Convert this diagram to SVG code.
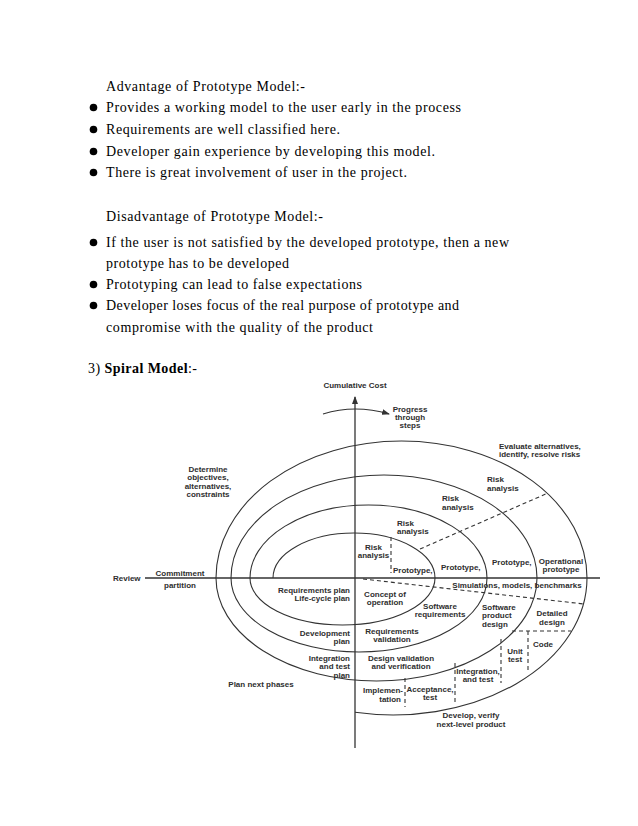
<svg xmlns="http://www.w3.org/2000/svg" width="638" height="826" viewBox="0 0 638 826">
<defs>
<style>
.body{font-family:"Liberation Serif","Times New Roman",serif;font-size:14px;fill:#000}
.lb{font-family:"Liberation Sans",Arial,sans-serif;font-size:8px;font-weight:bold;fill:#2e2e2e}
.m{text-anchor:middle}
.e{text-anchor:end}
.ln{fill:none;stroke:#333;stroke-width:1.1}
.ax{fill:none;stroke:#333;stroke-width:1.3}
.dash{fill:none;stroke:#333;stroke-width:1.1;stroke-dasharray:4 3}
</style>
<marker id="ah" viewBox="0 0 8 6" refX="7" refY="3" markerWidth="8" markerHeight="6" markerUnits="userSpaceOnUse" orient="auto">
<path d="M0,0 L8,3 L0,6 z" fill="#333"/>
</marker>
</defs>
<rect width="638" height="826" fill="#fff"/>

<g id="text-body">
<text class="body" x="106" y="91" textLength="199" lengthAdjust="spacing">Advantage  of Prototype Model:-</text>
<g id="bullets" fill="#000">
<circle cx="93.5" cy="107.5" r="3.8"/>
<circle cx="93.5" cy="129.5" r="3.8"/>
<circle cx="93.5" cy="151.5" r="3.8"/>
<circle cx="93.5" cy="172.5" r="3.8"/>
<circle cx="93.5" cy="242.5" r="3.8"/>
<circle cx="93.5" cy="284.5" r="3.8"/>
<circle cx="93.5" cy="305.5" r="3.8"/>
</g>
<text class="body" x="106" y="112" textLength="355" lengthAdjust="spacing">Provides a working model to the user early in the process</text>
<text class="body" x="106" y="134" textLength="234" lengthAdjust="spacing">Requirements  are well classified here.</text>
<text class="body" x="106" y="156" textLength="329" lengthAdjust="spacing">Developer gain experience by developing this model.</text>
<text class="body" x="106" y="177" textLength="301" lengthAdjust="spacing">There is great involvement of user in the project.</text>
<text class="body" x="106" y="221" textLength="217" lengthAdjust="spacing">Disadvantage  of Prototype Model:-</text>
<text class="body" x="106" y="247" textLength="403" lengthAdjust="spacing">If the user is not satisfied by the developed prototype, then a new</text>
<text class="body" x="106" y="268" textLength="183" lengthAdjust="spacing">prototype has to be developed</text>
<text class="body" x="106" y="289" textLength="256" lengthAdjust="spacing">Prototyping can lead to false expectations</text>
<text class="body" x="106" y="310" textLength="353" lengthAdjust="spacing">Developer loses focus of the real purpose of prototype and</text>
<text class="body" x="106" y="332" textLength="267" lengthAdjust="spacing">compromise with the quality of the product</text>
<text class="body" x="88" y="373" textLength="109" lengthAdjust="spacing">3) <tspan font-weight="bold">Spiral Model</tspan>:-</text>
</g>

<g id="connectors">
<line class="ax" x1="145" y1="578" x2="600" y2="578"/>
<line class="ax" x1="355" y1="748" x2="355" y2="397" marker-end="url(#ah)"/>
<path class="ln" d="M323,414 Q355,404 389,414" marker-end="url(#ah)"/>
<path id="spiral" class="ln" d="M273,578 A81,45 0 0 1 435,578 A92.5,47 0 0 1 250,578 A118.5,73 0 0 1 487,578 A128,74 0 0 1 231,578 A153,103 0 0 1 537,578 A160.5,103 0 0 1 216,578 A185.5,137 0 0 1 587,578 A194,137 0 0 1 355,712.3"/>
<line class="dash" x1="420" y1="549" x2="548" y2="493"/>
<line class="dash" x1="363" y1="579" x2="584" y2="604"/>
<line class="dash" x1="391" y1="537" x2="391" y2="573"/>
<line class="dash" x1="512" y1="631" x2="571" y2="631"/>
<line class="dash" x1="501" y1="639" x2="501" y2="683"/>
<line class="dash" x1="528" y1="631" x2="528" y2="672"/>
<line class="dash" x1="455" y1="663" x2="455" y2="703"/>
<line class="dash" x1="405" y1="678" x2="405" y2="707"/>
</g>

<g id="labels">
<text class="lb m" x="355" y="388">Cumulative Cost</text>
<g id="progress"><text class="lb m" x="410" y="412">Progress</text><text class="lb m" x="410" y="420">through</text><text class="lb m" x="410" y="428">steps</text></g>
<g id="evaluate"><text class="lb" x="499" y="449">Evaluate alternatives,</text><text class="lb" x="499" y="457">identify, resolve risks</text></g>
<g id="determine"><text class="lb m" x="208" y="472">Determine</text><text class="lb m" x="208" y="480">objectives,</text><text class="lb m" x="208" y="489">alternatives,</text><text class="lb m" x="208" y="497">constraints</text></g>
<g id="risk4"><text class="lb" x="487" y="482">Risk</text><text class="lb" x="487" y="491">analysis</text></g>
<g id="risk3"><text class="lb" x="442" y="501">Risk</text><text class="lb" x="442" y="510">analysis</text></g>
<g id="risk2"><text class="lb" x="397" y="526">Risk</text><text class="lb" x="397" y="534">analysis</text></g>
<g id="risk1"><text class="lb m" x="373.5" y="550">Risk</text><text class="lb m" x="373.5" y="558">analysis</text></g>
<text class="lb" x="393" y="573">Prototype,</text>
<text class="lb" x="441" y="570">Prototype,</text>
<text class="lb" x="492" y="565">Prototype,</text>
<g id="operational"><text class="lb m" x="561" y="564">Operational</text><text class="lb m" x="561" y="572">prototype</text></g>
<text class="lb" x="113" y="581">Review</text>
<g id="commitment"><text class="lb m" x="180" y="576">Commitment</text><text class="lb m" x="180" y="588">partition</text></g>
<g id="reqplan"><text class="lb e" x="350" y="593">Requirements plan</text><text class="lb e" x="350" y="601">Life-cycle plan</text></g>
<g id="devplan"><text class="lb e" x="350" y="636">Development</text><text class="lb e" x="350" y="644">plan</text></g>
<g id="intplan"><text class="lb e" x="350" y="661">Integration</text><text class="lb e" x="350" y="669">and test</text><text class="lb e" x="350" y="678">plan</text></g>
<text class="lb m" x="261" y="687">Plan next phases</text>
<g id="concept"><text class="lb m" x="385" y="597">Concept of</text><text class="lb m" x="385" y="605">operation</text></g>
<g id="reqval"><text class="lb m" x="392" y="634">Requirements</text><text class="lb m" x="392" y="642">validation</text></g>
<g id="desval"><text class="lb m" x="401" y="661">Design validation</text><text class="lb m" x="401" y="669">and verification</text></g>
<g id="impl"><text class="lb e" x="403" y="693">Implemen-</text><text class="lb e" x="401" y="702">tation</text></g>
<g id="accept"><text class="lb m" x="430" y="692">Acceptance,</text><text class="lb m" x="430" y="700">test</text></g>
<g id="inttest"><text class="lb m" x="478" y="674">Integration,</text><text class="lb m" x="478" y="682">and test</text></g>
<g id="unit"><text class="lb m" x="515" y="654">Unit</text><text class="lb m" x="515" y="662">test</text></g>
<text class="lb" x="533" y="647">Code</text>
<g id="swreq"><text class="lb m" x="440" y="609">Software</text><text class="lb m" x="440" y="617">requirements</text></g>
<g id="swprod"><text class="lb" x="482" y="610">Software</text><text class="lb" x="482" y="618">product</text><text class="lb" x="482" y="627">design</text></g>
<g id="detailed"><text class="lb m" x="552" y="616">Detailed</text><text class="lb m" x="552" y="625">design</text></g>
<text class="lb m" x="517" y="588">Simulations, models, benchmarks</text>
<g id="develop"><text class="lb m" x="471" y="718">Develop, verify</text><text class="lb m" x="471" y="727">next-level product</text></g>
</g>
</svg>
